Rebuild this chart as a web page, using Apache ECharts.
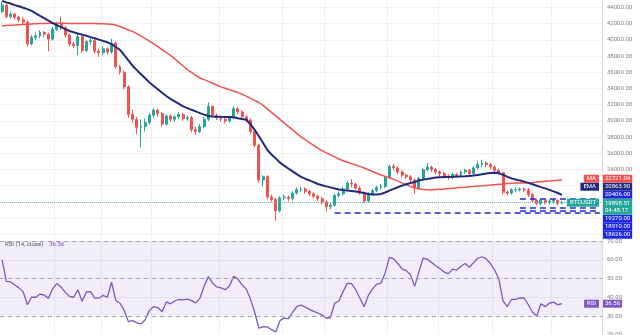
<!DOCTYPE html>
<html>
<head>
<meta charset="utf-8">
<script src="https://cdn.jsdelivr.net/npm/echarts/dist/echarts.min.js"></script>
<style>
html,body{margin:0;padding:0;background:#fff}
#chart{width:640px;height:335px}
</style>
</head>
<body>
<div id="chart"></div>
<script>
// ---- BTC/USDT daily candles ----
const opens = [
43500,44300,42900,43200,42800,42500,42200,39500,40300,40500,
40900,40700,40100,41300,41900,41500,40600,39500,39300,40400,
38700,39800,39900,38600,38400,38900,38500,39600,36700,36000,
34200,30800,30200,29200,29300,29800,30700,31300,30900,29600,
30600,30200,30500,30800,30300,30400,28900,28700,29300,30200,
31800,30700,30400,30200,30000,30400,31500,31100,30500,30100,
28700,27000,22700,23100,20600,20300,18900,20500,20600,20400,
21100,21500,21600,21300,21000,20700,20400,20000,19400,19600,
20800,21000,21600,22300,22200,21700,21100,20100,21000,21400,
21800,21900,23000,24400,24200,23700,23300,23100,22700,21700,
22900,24000,24300,24000,23700,23500,23200,23000,23400,23300,
23700,23900,23500,24200,24600,24800,24600,24300,23900,23600,
21200,21100,21500,21500,21600,21500,20900,20200,19800,20200,
19900,20100,20200,19800];
const closes = [
44300,42900,43200,42800,42500,42200,39500,40300,40500,40900,
40700,40100,41300,41900,41500,40600,39500,39300,40400,38700,
39800,39900,38600,38400,38900,38500,39600,36700,36000,34200,
30800,30200,29200,29300,29800,30700,31300,30900,29600,30600,
30200,30500,30800,30300,30400,28900,28700,29300,30200,31800,
30700,30400,30200,30000,30400,31500,31100,30500,30100,28700,
27000,22700,23100,20600,20300,18900,20500,20600,20400,21100,
21500,21600,21300,21000,20700,20400,20000,19400,19600,20800,
21000,21600,22300,22200,21700,21100,20100,21000,21400,21800,
21900,23000,24400,24200,23700,23300,23100,22700,21700,22900,
24000,24300,24000,23700,23500,23200,23000,23400,23300,23700,
23900,23500,24200,24600,24800,24600,24300,23900,23600,21200,
21100,21500,21500,21600,21500,20900,20200,19800,20200,19900,
20100,20200,19800,19898.51];
const lows = [
43300,42700,42600,42500,42200,41900,39200,39300,40000,40200,
40300,38600,39900,41100,41200,40300,39200,39000,38100,38400,
38500,39400,38300,37900,38100,38200,38300,36400,35700,33900,
30400,29800,28400,26700,28700,29500,30400,30500,29300,29400,
29900,29900,30200,30000,30000,28600,28300,28500,29100,30000,
30500,30100,29900,29700,29800,30200,30800,30200,29800,28400,
26700,22400,21900,20300,20000,17700,18700,20200,20100,20200,
20900,21200,21000,20700,20400,20100,19700,18800,19100,19400,
20600,20800,21400,21800,21500,20900,19900,19900,20800,21200,
21500,21700,22800,23900,23400,23000,22800,22400,21000,21500,
22700,23800,23700,23400,23200,22900,22700,22800,23000,23100,
23500,23200,23300,24000,24300,24300,24000,23600,23300,20900,
20800,20900,21200,21300,21200,20600,19900,19600,19600,19700,
19700,19800,19600,19700];
const highs = [
44700,44500,43500,43300,43000,42800,42400,40600,40900,41200,
41100,40900,41600,42200,42900,41700,40800,39800,40700,40600,
40000,40300,40100,38900,39200,39100,40100,39800,36900,36200,
34400,31400,30500,30200,30300,31000,31600,31500,31100,30800,
30800,30700,31100,31000,30700,30600,29300,29600,30500,32300,
31900,30900,30600,30400,30600,31800,31700,31300,30700,30300,
28900,27200,23300,23300,20900,20500,20700,20900,20800,21300,
21800,21900,21800,21500,21200,20900,20600,20200,19900,21000,
21300,21900,22600,22800,22400,21900,21300,21200,21600,22000,
22200,23200,24600,24700,24400,23900,23500,23300,22900,23100,
24200,24800,24500,24200,23900,23700,23400,23600,23600,23900,
24100,24100,24400,25100,25200,25000,24800,24500,24100,23700,
21400,21700,21800,21800,21800,21700,21100,20400,20400,20300,
20300,20400,20300,20100];

// ---- moving averages ----
const ma50 = [
41728,41778,41815,41840,41877,41901,41938,41963,41988,42012,
42037,42049,42049,42049,42049,42049,42037,42037,42037,42025,
42025,42012,42012,42000,41988,41975,41938,41840,41654,41444,
41222,41049,40765,40457,40160,39852,39506,39160,38802,38444,
38086,37654,37222,36778,36333,36000,35630,35296,35098,34876,
34654,34432,34197,34024,33852,33691,33518,33309,33049,32790,
32531,32272,31914,31482,31050,30617,30185,29753,29333,28901,
28457,28025,27679,27333,26987,26641,26333,26061,25802,25555,
25296,25074,24901,24728,24555,24382,24185,23963,23753,23543,
23321,23148,22975,22778,22567,22345,22135,21913,21765,21617,
21543,21493,21469,21518,21568,21605,21654,21691,21741,21778,
21815,21864,21901,21951,21988,22037,22074,22123,22173,22210,
22259,22296,22321,22333,22346,22370,22395,22444,22494,22543,
22592,22630,22667,22721.04];
const ema20 = [
44815,44630,44494,44296,44148,43975,43802,43580,43284,42975,
42679,42370,42086,41827,41568,41321,41099,40938,40790,40654,
40506,40346,40197,40037,39864,39704,39469,39123,38778,38136,
37481,36802,36271,35765,35259,34753,34309,33901,33481,33074,
32728,32420,32111,31802,31580,31370,31172,30963,30777,30605,
30540,30520,30500,30490,30480,30444,30333,30234,30136,29592,
28901,28099,27271,26407,25851,25370,24851,24481,24123,23777,
23432,23098,22864,22654,22432,22210,22049,21914,21790,21654,
21531,21457,21395,21346,21284,21198,21087,20975,20914,20914,
20975,21160,21383,21605,21815,22012,22173,22333,22457,22630,
22753,22827,22914,23000,23049,23074,23086,23098,23123,23148,
23173,23210,23247,23333,23420,23494,23556,23593,23556,23333,
23111,22901,22765,22630,22506,22346,22173,22000,21827,21667,
21481,21296,21099,20863.90];

// ---- RSI (14, close) ----
const rsi14 = [
60,48.5,48.2,46.5,45,43,36,40,40,41.7,
41.2,39.4,44.5,47.3,45.5,42.6,40.5,40,44,37.8,
42.8,43,39.5,39.5,41,40,48,38.3,36.8,33,
27,27.5,26.3,25.8,28,33,35,34.5,32.3,37.5,
36.5,38,38.8,38.6,39,38.2,37,39.5,46,51,
47.5,45.5,45,44,46,51.2,49.7,46.6,44.4,39,
32,23.5,24.3,24.2,22.7,21.5,27.5,29,28.5,32,
35,35.8,34.7,33.5,32.5,31.6,30.5,28.8,29.2,36.8,
38,43,47.4,47.3,44,39.5,35,41,44.5,47,
47.5,53,61.3,60.5,58,55.1,54.2,52,45.8,53.5,
60.8,60.3,58.6,56.8,55.3,53.5,52.5,55,54.5,56.5,
58,56,58.5,60.8,61.6,60.5,58,54.5,49.7,38,
35,38.8,38.9,39.7,39.6,36,32,30,36.5,35,
36.8,37.4,36,36.56];

// ---- horizontal levels and their first day ----
const levels = [20406, 19270, 18910, 18626];
const levelFrom = [123, 123, 123, 79];
// day indices where the time grid lines fall
const gridMarks = [13, 24, 36, 52, 67, 77, 92, 104, 117, 131];
const rsiBands = [70, 50, 30];
const symbolName = 'BTCUSDT';
const countdown = '04:48:17';
const emptyDays = 9;

// ---- categories (daily) ----
const n = closes.length;
const days = [];
const t0 = Date.UTC(2022, 3, 25);
for (let i = 0; i < n + emptyDays; i++) {
  days.push(new Date(t0 + i * 86400000).toISOString().slice(0, 10));
}
const candles = closes.map((c, i) => [opens[i], c, lows[i], highs[i]]);
const lastPrice = closes[n - 1];

const FONT = 'Roboto, "Noto Sans", sans-serif';
const GRID_C = '#eef0f4';
const UP = '#26a69a', DOWN = '#ef5350';
const MA_C = '#f0524f', EMA_C = '#1f2a7c', LEVEL_C = '#2027dc', RSI_C = '#7e57c2';
const RIGHT = 38;

const vSplit = {
  show: true,
  interval: (idx) => gridMarks.indexOf(idx) >= 0,
  lineStyle: { color: GRID_C, width: 1 }
};
const hiddenX = (g) => ({
  type: 'category', data: days, gridIndex: g, boundaryGap: true,
  axisLine: { show: false }, axisTick: { show: false }, axisLabel: { show: false },
  splitLine: vSplit
});

const levelLines = levels.map((lv, k) => [
  { coord: [days[levelFrom[k]], lv] },
  { coord: [days[days.length - 1], lv] }
]);

const chart = echarts.init(document.getElementById('chart'));
chart.setOption({
  animation: false,
  backgroundColor: '#ffffff',
  textStyle: { fontFamily: FONT },
  grid: [
    { left: 0, right: RIGHT, top: -8.7, height: 243, outerBoundsMode: 'none', containLabel: false },
    { left: 0, right: RIGHT, top: 234.3, height: 100.45, outerBoundsMode: 'none', containLabel: false }
  ],
  xAxis: [hiddenX(0), hiddenX(1)],
  yAxis: [
    {
      type: 'value', gridIndex: 0, position: 'right',
      min: 16000, max: 46000, interval: 2000,
      axisLine: { show: true, lineStyle: { color: '#d9dbe1' } },
      axisTick: { show: false },
      axisLabel: { color: '#7b7e88', fontSize: 6, margin: 5, showMinLabel: false, showMaxLabel: false,
        formatter: (v) => v.toFixed(2) },
      splitLine: { lineStyle: { color: GRID_C } }
    },
    {
      type: 'value', gridIndex: 1, position: 'right',
      min: 20, max: 20 + 100.45 / 1.875, interval: 10,
      axisLine: { show: true, lineStyle: { color: '#d9dbe1' } },
      axisTick: { show: false },
      axisLabel: { color: '#7b7e88', fontSize: 6, margin: 5, showMaxLabel: false,
        formatter: (v) => v.toFixed(2) },
      splitLine: { lineStyle: { color: GRID_C } }
    }
  ],
  series: [
    {
      name: symbolName, type: 'candlestick', xAxisIndex: 0, yAxisIndex: 0,
      data: candles, barWidth: '58%',
      itemStyle: { color: UP, color0: DOWN, borderColor: UP, borderColor0: DOWN, borderWidth: 1 },
      markLine: {
        silent: true, symbol: ['none', 'none'], animation: false,
        label: { show: false },
        data: [
          { yAxis: lastPrice, lineStyle: { color: '#6fb7ae', type: 'dotted', width: 1 } },
          ...levelLines.map(l => [
            Object.assign({}, l[0], { lineStyle: { color: LEVEL_C, type: [6, 4], width: 1.6 } }),
            l[1]
          ])
        ]
      }
    },
    {
      name: 'MA', type: 'line', xAxisIndex: 0, yAxisIndex: 0, data: ma50,
      symbol: 'none', z: 3, lineStyle: { color: MA_C, width: 1.5 }
    },
    {
      name: 'EMA', type: 'line', xAxisIndex: 0, yAxisIndex: 0, data: ema20,
      symbol: 'none', z: 4, lineStyle: { color: EMA_C, width: 2 }
    },
    {
      name: 'RSI', type: 'line', xAxisIndex: 1, yAxisIndex: 1, data: rsi14,
      symbol: 'none', z: 4, lineStyle: { color: RSI_C, width: 1.3 },
      markArea: {
        silent: true,
        itemStyle: { color: 'rgba(126,87,194,0.10)' },
        data: [[{ yAxis: 30 }, { yAxis: 70 }]]
      },
      markLine: {
        silent: true, symbol: ['none', 'none'], label: { show: false },
        lineStyle: { color: '#a3a3b0', type: [4, 4], width: 1 },
        data: rsiBands.map(v => ({ yAxis: v }))
      }
    }
  ]
});

// ---- value tags on the price and RSI scales ----
const edge = chart.getWidth() - RIGHT;
const py = (v) => chart.convertToPixel({ yAxisIndex: 0 }, v);
const ry = (v) => chart.convertToPixel({ yAxisIndex: 1 }, v);
const TAG_H = 8;

function valueTag(text, bg, cy) {
  return { type: 'text', z: 100, silent: true, style: {
    text, x: edge + 1, y: cy, fill: '#ffffff', fontSize: 6, fontFamily: FONT,
    backgroundColor: bg, padding: [1, 2, 1, 2], lineHeight: 6,
    align: 'left', verticalAlign: 'middle' } };
}
function nameTag(text, bg, cy) {
  return { type: 'text', z: 100, silent: true, style: {
    text, x: edge - 3, y: cy, fill: '#ffffff', fontSize: 6, fontFamily: FONT,
    backgroundColor: bg, padding: [1, 3, 1, 3], lineHeight: 6,
    align: 'right', verticalAlign: 'middle' } };
}

const graphics = [];
// last price tag (price + bar countdown) stays at its own level
const cyLast = py(lastPrice);
const lastTop = cyLast - TAG_H / 2;
const lastBottom = lastTop + 16;
graphics.push({ type: 'text', z: 101, silent: true, style: {
  text: lastPrice.toFixed(2) + '\n' + countdown, x: edge + 1, y: lastTop,
  fill: '#ffffff', fontSize: 6, fontFamily: FONT, backgroundColor: UP,
  padding: [1, 2, 1, 2], lineHeight: 7, align: 'left', verticalAlign: 'top' } });
graphics.push(nameTag(symbolName, UP, cyLast));

// tags above the last price, nearest first, pushed upward when they collide
const above = [
  { v: levels[0], bg: LEVEL_C },
  { v: ema20[n - 1], bg: EMA_C, name: 'EMA' },
  { v: ma50[n - 1], bg: MA_C, name: 'MA' }
];
let limit = lastTop;
above.forEach(t => {
  const cy = Math.min(py(t.v), limit - TAG_H / 2);
  limit = cy - TAG_H / 2;
  graphics.push(valueTag(t.v.toFixed(2), t.bg, cy));
  if (t.name) graphics.push(nameTag(t.name, t.bg, cy));
});
// tags below the last price, pushed downward
limit = lastBottom;
levels.slice(1).forEach(v => {
  const cy = Math.max(py(v), limit + TAG_H / 2);
  limit = cy + TAG_H / 2;
  graphics.push(valueTag(v.toFixed(2), LEVEL_C, cy));
});

// RSI pane: title and value tag
const rsiLast = rsi14[n - 1];
const rsiGridTop = ry(20 + 100.45 / 1.875);
graphics.push({ type: 'text', z: 100, silent: true, style: {
  x: 5, y: rsiGridTop + 10, verticalAlign: 'middle', fontFamily: FONT,
  text: '{a|RSI (14, close)}  {b|' + rsiLast.toFixed(2) + '}',
  rich: { a: { fill: '#555a66', fontSize: 6, fontFamily: FONT },
          b: { fill: RSI_C, fontSize: 6, fontFamily: FONT } } } });
graphics.push(valueTag(rsiLast.toFixed(2), RSI_C, ry(rsiLast)));
graphics.push(nameTag('RSI', RSI_C, ry(rsiLast)));

chart.setOption({ graphic: graphics });
</script>
</body>
</html>
